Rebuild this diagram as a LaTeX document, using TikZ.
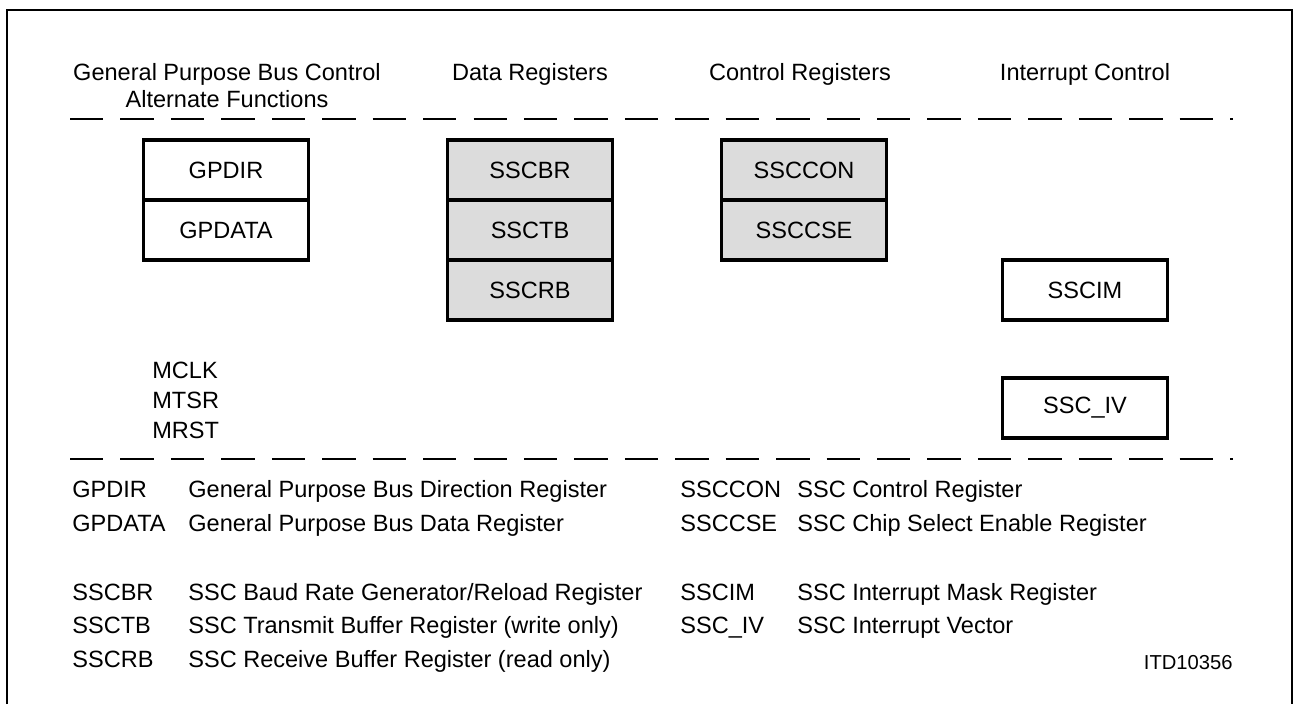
\documentclass[tikz,border=0pt]{standalone}
\usepackage{fontspec}
\setmainfont{Liberation Sans}
\definecolor{RegGray}{RGB}{220,220,220}
\newcommand{\legfont}{\fontsize{13.4pt}{16pt}\selectfont}
\usetikzlibrary{positioning}

\begin{document}
\begin{tikzpicture}[x=0.02cm,y=-0.02cm,font=\legfont,
    reg/.style={draw,line width=2pt,minimum width=3.3cm,minimum height=1.2cm,
                inner sep=0pt,outer sep=0pt},
    greg/.style={reg,fill=RegGray},
    sepline/.style={line width=0.8pt,dash pattern=on 0.667cm off 0.342cm},
    txt/.style={anchor=base west,inner sep=0pt},
    head/.style={anchor=base,inner sep=0pt}]
  \useasboundingbox (0,0) rectangle (1297,704);
  %% Frame (open at the bottom)
  \draw[line width=1.1pt] (7,704) -- (7,10) -- (1292,10) -- (1292,704);
  %% Column headings
  \node[head] (hgp)   at (227,80)  {General Purpose Bus Control};
  \node[head] (halt)  at (227,107) {Alternate Functions};
  \node[head] (hdata) at (530,80)  {Data Registers};
  \node[head] (hctrl) at (800,80)  {Control Registers};
  \node[head] (hint)  at (1085,80) {Interrupt Control};
  %% Separators
  \draw[sepline] (70,119) -- (1233,119);
  \draw[sepline] (70,459) -- (1233,459);
  %% General purpose bus
  \node[reg] (gpdir) at (226,170) {GPDIR};
  \node[reg,below=0pt of gpdir] (gpdata) {GPDATA};
  \node[txt] (mclk) at (152,378) {MCLK};
  \node[txt] (mtsr) at (152,408) {MTSR};
  \node[txt] (mrst) at (152,438) {MRST};
  %% Data registers
  \node[greg] (sscbr) at (530,170) {SSCBR};
  \node[greg,below=0pt of sscbr] (ssctb) {SSCTB};
  \node[greg,below=0pt of ssctb] (sscrb) {SSCRB};
  %% Control registers
  \node[greg] (ssccon) at (804,170) {SSCCON};
  \node[greg,below=0pt of ssccon] (ssccse) {SSCCSE};
  %% Interrupt control
  \node[reg] (sscim) at (1085,290) {SSCIM};
  \node[reg] (ssciv) at (1085,408) {SSC\_IV};
  %% Legend, left column
  \node[txt] (lgpdir)  at (72,497)  {GPDIR};
  \node[txt] (dgpdir)  at (188,497) {General Purpose Bus Direction Register};
  \node[txt] (lgpdata) at (72,531)  {GPDATA};
  \node[txt] (dgpdata) at (188,531) {General Purpose Bus Data Register};
  \node[txt] (lsscbr)  at (72,600)  {SSCBR};
  \node[txt] (dsscbr)  at (188,600) {SSC Baud Rate Generator/Reload Register};
  \node[txt] (lssctb)  at (72,633)  {SSCTB};
  \node[txt] (dssctb)  at (188,633) {SSC Transmit Buffer Register (write only)};
  \node[txt] (lsscrb)  at (72,667)  {SSCRB};
  \node[txt] (dsscrb)  at (188,667) {SSC Receive Buffer Register (read only)};
  %% Legend, right column
  \node[txt] (lssccon) at (680,497) {SSCCON};
  \node[txt] (dssccon) at (797,497) {SSC Control Register};
  \node[txt] (lssccse) at (680,531) {SSCCSE};
  \node[txt] (dssccse) at (797,531) {SSC Chip Select Enable Register};
  \node[txt] (lsscim)  at (680,600) {SSCIM};
  \node[txt] (dsscim)  at (797,600) {SSC Interrupt Mask Register};
  \node[txt] (lssciv)  at (680,633) {SSC\_IV};
  \node[txt] (dssciv)  at (797,633) {SSC Interrupt Vector};
  %% Figure number
  \node[anchor=base east,inner sep=0pt,font=\fontsize{11.5pt}{14pt}\selectfont]
       (itd) at (1233,669) {ITD10356};
\end{tikzpicture}
\end{document}
